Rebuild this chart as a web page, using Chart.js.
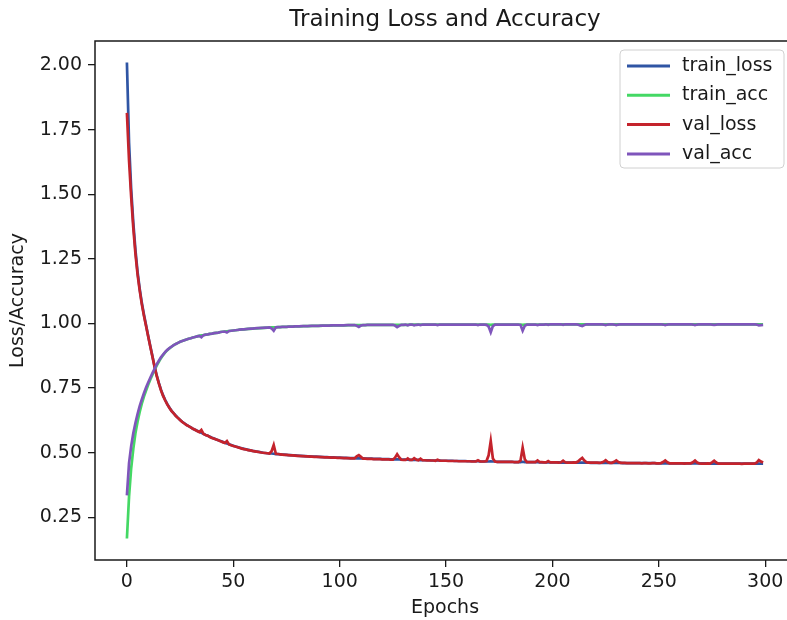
<!DOCTYPE html>
<html>
<head>
<meta charset="utf-8">
<title>Training Loss and Accuracy</title>
<script src="https://cdn.jsdelivr.net/npm/chart.js@4/dist/chart.umd.min.js"></script>
<style>
  html, body { margin: 0; padding: 0; background: #fff; overflow: hidden; }
  #wrap { width: 800px; height: 620px; }
</style>
</head>
<body>
<div id="wrap"><canvas id="chart" width="800" height="620"></canvas></div>
<script>
// values, one entry per epoch (0..299)
const epochs = Array.from({ length: 300 }, (_, i) => i);

const trainLoss = [
  2.010, 1.700, 1.520, 1.390, 1.285, 1.200, 1.135, 1.080, 1.035, 0.993,
  0.952, 0.912, 0.873, 0.834, 0.799, 0.770, 0.744, 0.722, 0.704, 0.688,
  0.674, 0.662, 0.652, 0.643, 0.635, 0.627, 0.620, 0.614, 0.608, 0.603,
  0.598, 0.593, 0.589, 0.585, 0.581, 0.577, 0.573, 0.569, 0.566, 0.562,
  0.558, 0.555, 0.551, 0.548, 0.545, 0.542, 0.539, 0.536, 0.533, 0.530,
  0.527, 0.524, 0.522, 0.519, 0.517, 0.515, 0.513, 0.511, 0.509, 0.507,
  0.506, 0.504, 0.503, 0.502, 0.500, 0.499, 0.498, 0.497, 0.497, 0.496,
  0.495, 0.495, 0.494, 0.493, 0.493, 0.492, 0.491, 0.491, 0.490, 0.490,
  0.489, 0.488, 0.488, 0.487, 0.487, 0.486, 0.486, 0.485, 0.485, 0.485,
  0.484, 0.484, 0.483, 0.483, 0.483, 0.482, 0.482, 0.482, 0.481, 0.481,
  0.481, 0.480, 0.480, 0.480, 0.479, 0.479, 0.479, 0.479, 0.478, 0.478,
  0.478, 0.478, 0.477, 0.477, 0.477, 0.477, 0.476, 0.476, 0.476, 0.476,
  0.475, 0.475, 0.475, 0.475, 0.474, 0.474, 0.474, 0.474, 0.474, 0.473,
  0.473, 0.473, 0.473, 0.472, 0.472, 0.472, 0.472, 0.472, 0.471, 0.471,
  0.471, 0.471, 0.471, 0.470, 0.470, 0.470, 0.470, 0.470, 0.469, 0.469,
  0.469, 0.469, 0.469, 0.469, 0.468, 0.468, 0.468, 0.468, 0.468, 0.468,
  0.467, 0.467, 0.467, 0.467, 0.467, 0.467, 0.466, 0.466, 0.466, 0.466,
  0.466, 0.467, 0.466, 0.466, 0.465, 0.465, 0.465, 0.465, 0.465, 0.465,
  0.465, 0.465, 0.464, 0.464, 0.464, 0.464, 0.465, 0.464, 0.464, 0.464,
  0.464, 0.464, 0.464, 0.464, 0.463, 0.463, 0.463, 0.463, 0.463, 0.463,
  0.463, 0.463, 0.463, 0.463, 0.462, 0.462, 0.462, 0.462, 0.462, 0.462,
  0.462, 0.462, 0.462, 0.462, 0.462, 0.462, 0.462, 0.462, 0.461, 0.461,
  0.461, 0.461, 0.461, 0.461, 0.461, 0.461, 0.461, 0.461, 0.461, 0.461,
  0.461, 0.461, 0.461, 0.460, 0.460, 0.460, 0.460, 0.460, 0.460, 0.460,
  0.460, 0.460, 0.460, 0.460, 0.460, 0.460, 0.460, 0.460, 0.460, 0.459,
  0.459, 0.459, 0.459, 0.459, 0.459, 0.459, 0.459, 0.459, 0.459, 0.459,
  0.459, 0.459, 0.459, 0.459, 0.459, 0.459, 0.459, 0.459, 0.459, 0.459,
  0.459, 0.459, 0.459, 0.458, 0.458, 0.458, 0.458, 0.458, 0.458, 0.458,
  0.458, 0.458, 0.458, 0.458, 0.458, 0.458, 0.458, 0.458, 0.458, 0.458,
  0.458, 0.458, 0.458, 0.458, 0.458, 0.458, 0.458, 0.458, 0.458, 0.458
];

const trainAcc = [
  0.168, 0.330, 0.440, 0.515, 0.575, 0.620, 0.658, 0.690, 0.717, 0.741,
  0.763, 0.783, 0.802, 0.820, 0.837, 0.852, 0.866, 0.878, 0.888, 0.897,
  0.904, 0.910, 0.916, 0.921, 0.925, 0.929, 0.932, 0.935, 0.938, 0.941,
  0.943, 0.946, 0.948, 0.950, 0.952, 0.954, 0.955, 0.957, 0.958, 0.960,
  0.961, 0.963, 0.964, 0.965, 0.967, 0.968, 0.969, 0.970, 0.971, 0.972,
  0.973, 0.974, 0.975, 0.976, 0.976, 0.977, 0.978, 0.979, 0.979, 0.980,
  0.981, 0.981, 0.982, 0.982, 0.983, 0.983, 0.984, 0.984, 0.985, 0.985,
  0.985, 0.986, 0.986, 0.987, 0.987, 0.987, 0.988, 0.988, 0.988, 0.989,
  0.989, 0.989, 0.989, 0.990, 0.990, 0.990, 0.990, 0.991, 0.991, 0.991,
  0.991, 0.991, 0.992, 0.992, 0.992, 0.992, 0.992, 0.993, 0.993, 0.993,
  0.993, 0.993, 0.993, 0.993, 0.994, 0.994, 0.994, 0.994, 0.994, 0.994,
  0.994, 0.994, 0.994, 0.995, 0.995, 0.995, 0.995, 0.995, 0.995, 0.995,
  0.995, 0.995, 0.995, 0.995, 0.995, 0.995, 0.995, 0.995, 0.995, 0.995,
  0.995, 0.995, 0.995, 0.996, 0.996, 0.996, 0.996, 0.996, 0.996, 0.996,
  0.996, 0.996, 0.996, 0.996, 0.996, 0.996, 0.996, 0.996, 0.996, 0.996,
  0.996, 0.996, 0.996, 0.996, 0.996, 0.996, 0.996, 0.996, 0.996, 0.996,
  0.996, 0.996, 0.996, 0.996, 0.996, 0.996, 0.996, 0.996, 0.996, 0.996,
  0.996, 0.995, 0.996, 0.996, 0.996, 0.996, 0.996, 0.996, 0.996, 0.996,
  0.996, 0.996, 0.996, 0.996, 0.996, 0.996, 0.995, 0.996, 0.996, 0.996,
  0.996, 0.996, 0.996, 0.996, 0.996, 0.996, 0.996, 0.997, 0.997, 0.997,
  0.997, 0.997, 0.997, 0.997, 0.997, 0.997, 0.997, 0.997, 0.997, 0.997,
  0.997, 0.997, 0.997, 0.997, 0.997, 0.997, 0.997, 0.997, 0.997, 0.997,
  0.997, 0.997, 0.997, 0.997, 0.997, 0.997, 0.997, 0.997, 0.997, 0.997,
  0.997, 0.997, 0.997, 0.997, 0.997, 0.997, 0.997, 0.997, 0.997, 0.997,
  0.997, 0.997, 0.997, 0.997, 0.997, 0.997, 0.997, 0.997, 0.997, 0.997,
  0.997, 0.997, 0.997, 0.997, 0.997, 0.997, 0.997, 0.997, 0.997, 0.997,
  0.997, 0.997, 0.997, 0.997, 0.997, 0.997, 0.997, 0.997, 0.997, 0.997,
  0.997, 0.997, 0.997, 0.997, 0.997, 0.997, 0.997, 0.997, 0.997, 0.997,
  0.997, 0.997, 0.997, 0.997, 0.997, 0.997, 0.997, 0.997, 0.997, 0.997,
  0.997, 0.997, 0.997, 0.997, 0.997, 0.997, 0.997, 0.997, 0.997, 0.997
];

const valLoss = [
  1.815, 1.630, 1.490, 1.370, 1.270, 1.190, 1.128, 1.075, 1.030, 0.990,
  0.950, 0.910, 0.871, 0.832, 0.797, 0.768, 0.742, 0.720, 0.702, 0.686,
  0.673, 0.661, 0.652, 0.642, 0.634, 0.627, 0.619, 0.613, 0.607, 0.603,
  0.598, 0.593, 0.589, 0.584, 0.580, 0.588, 0.573, 0.569, 0.566, 0.561,
  0.557, 0.554, 0.551, 0.548, 0.544, 0.541, 0.538, 0.545, 0.532, 0.529,
  0.526, 0.524, 0.521, 0.519, 0.516, 0.514, 0.513, 0.510, 0.509, 0.507,
  0.505, 0.504, 0.503, 0.501, 0.500, 0.499, 0.498, 0.497, 0.506, 0.530,
  0.496, 0.495, 0.494, 0.493, 0.492, 0.492, 0.491, 0.490, 0.490, 0.489,
  0.488, 0.488, 0.487, 0.487, 0.486, 0.486, 0.485, 0.485, 0.484, 0.484,
  0.484, 0.483, 0.483, 0.482, 0.482, 0.482, 0.481, 0.481, 0.481, 0.480,
  0.480, 0.480, 0.479, 0.479, 0.479, 0.478, 0.478, 0.478, 0.486, 0.491,
  0.484, 0.477, 0.477, 0.476, 0.476, 0.476, 0.475, 0.475, 0.475, 0.475,
  0.474, 0.474, 0.474, 0.474, 0.473, 0.473, 0.481, 0.494, 0.482, 0.473,
  0.472, 0.472, 0.478, 0.472, 0.472, 0.479, 0.473, 0.471, 0.477, 0.471,
  0.471, 0.470, 0.470, 0.470, 0.470, 0.469, 0.473, 0.469, 0.469, 0.469,
  0.469, 0.468, 0.468, 0.468, 0.468, 0.468, 0.467, 0.467, 0.467, 0.467,
  0.467, 0.467, 0.466, 0.466, 0.466, 0.471, 0.466, 0.466, 0.466, 0.468,
  0.490, 0.545, 0.478, 0.466, 0.465, 0.465, 0.465, 0.465, 0.465, 0.465,
  0.465, 0.465, 0.464, 0.464, 0.464, 0.470, 0.520, 0.475, 0.464, 0.464,
  0.464, 0.464, 0.464, 0.470, 0.464, 0.464, 0.463, 0.463, 0.468, 0.463,
  0.463, 0.463, 0.463, 0.462, 0.463, 0.469, 0.463, 0.462, 0.462, 0.462,
  0.463, 0.462, 0.466, 0.474, 0.480, 0.470, 0.463, 0.462, 0.462, 0.462,
  0.462, 0.462, 0.461, 0.462, 0.465, 0.471, 0.464, 0.461, 0.461, 0.465,
  0.470, 0.464, 0.461, 0.461, 0.461, 0.460, 0.460, 0.460, 0.460, 0.460,
  0.460, 0.460, 0.459, 0.460, 0.460, 0.459, 0.459, 0.460, 0.460, 0.459,
  0.459, 0.460, 0.464, 0.470, 0.463, 0.459, 0.459, 0.459, 0.459, 0.459,
  0.459, 0.459, 0.458, 0.459, 0.459, 0.459, 0.463, 0.470, 0.462, 0.459,
  0.458, 0.458, 0.458, 0.459, 0.458, 0.463, 0.469, 0.462, 0.458, 0.458,
  0.458, 0.458, 0.458, 0.458, 0.458, 0.458, 0.458, 0.458, 0.458, 0.457,
  0.458, 0.458, 0.458, 0.458, 0.458, 0.458, 0.462, 0.472, 0.466, 0.462
];

const valAcc = [
  0.335, 0.460, 0.525, 0.575, 0.615, 0.650, 0.680, 0.706, 0.730, 0.752,
  0.772, 0.790, 0.808, 0.825, 0.842, 0.856, 0.869, 0.880, 0.890, 0.898,
  0.905, 0.911, 0.916, 0.921, 0.925, 0.929, 0.932, 0.935, 0.938, 0.941,
  0.943, 0.946, 0.948, 0.950, 0.952, 0.947, 0.955, 0.957, 0.958, 0.960,
  0.961, 0.963, 0.964, 0.965, 0.967, 0.968, 0.969, 0.965, 0.971, 0.972,
  0.973, 0.974, 0.975, 0.976, 0.977, 0.977, 0.978, 0.979, 0.980, 0.980,
  0.981, 0.982, 0.982, 0.983, 0.983, 0.984, 0.984, 0.985, 0.981, 0.972,
  0.985, 0.986, 0.986, 0.987, 0.987, 0.987, 0.988, 0.988, 0.988, 0.989,
  0.989, 0.989, 0.990, 0.990, 0.990, 0.990, 0.991, 0.991, 0.991, 0.991,
  0.991, 0.992, 0.992, 0.992, 0.992, 0.992, 0.993, 0.993, 0.993, 0.993,
  0.993, 0.993, 0.993, 0.994, 0.994, 0.994, 0.994, 0.994, 0.991, 0.987,
  0.992, 0.994, 0.994, 0.995, 0.995, 0.995, 0.995, 0.995, 0.995, 0.995,
  0.995, 0.995, 0.995, 0.995, 0.995, 0.995, 0.992, 0.986, 0.991, 0.995,
  0.995, 0.996, 0.993, 0.996, 0.996, 0.993, 0.995, 0.996, 0.994, 0.996,
  0.996, 0.996, 0.996, 0.996, 0.996, 0.996, 0.994, 0.996, 0.996, 0.996,
  0.996, 0.996, 0.996, 0.996, 0.996, 0.996, 0.996, 0.996, 0.996, 0.996,
  0.996, 0.996, 0.996, 0.996, 0.996, 0.994, 0.996, 0.996, 0.996, 0.995,
  0.988, 0.966, 0.990, 0.996, 0.996, 0.996, 0.996, 0.996, 0.996, 0.996,
  0.996, 0.996, 0.996, 0.996, 0.996, 0.994, 0.972, 0.991, 0.996, 0.996,
  0.996, 0.996, 0.996, 0.994, 0.996, 0.996, 0.996, 0.997, 0.995, 0.997,
  0.997, 0.997, 0.997, 0.997, 0.997, 0.995, 0.997, 0.997, 0.997, 0.997,
  0.997, 0.997, 0.996, 0.992, 0.990, 0.994, 0.997, 0.997, 0.997, 0.997,
  0.997, 0.997, 0.997, 0.997, 0.996, 0.994, 0.996, 0.997, 0.997, 0.996,
  0.994, 0.996, 0.997, 0.997, 0.997, 0.997, 0.997, 0.997, 0.997, 0.997,
  0.997, 0.997, 0.997, 0.997, 0.997, 0.997, 0.997, 0.997, 0.997, 0.997,
  0.997, 0.997, 0.996, 0.994, 0.996, 0.997, 0.997, 0.997, 0.997, 0.997,
  0.997, 0.997, 0.997, 0.997, 0.997, 0.997, 0.996, 0.994, 0.996, 0.997,
  0.997, 0.997, 0.997, 0.997, 0.997, 0.996, 0.995, 0.996, 0.997, 0.997,
  0.997, 0.997, 0.997, 0.997, 0.997, 0.997, 0.997, 0.997, 0.997, 0.997,
  0.997, 0.997, 0.997, 0.997, 0.997, 0.997, 0.996, 0.993, 0.994, 0.995
];

const seriesNames = ['train_loss', 'train_acc', 'val_loss', 'val_acc'];
const seriesColors = ['#2f55a4', '#44d864', '#c4232c', '#7f55bb'];
const xTicks = [0, 50, 100, 150, 200, 250, 300];
const yTicks = [0.25, 0.50, 0.75, 1.00, 1.25, 1.50, 1.75, 2.00];

const FONT = 'DejaVu Sans';
const INK = '#1a1a1a';

const toPoints = (values) => values.map((v, i) => ({ x: epochs[i], y: v }));

// left, top and bottom spines (the right one falls outside the picture)
const framePlugin = {
    id: 'frame',
    afterDatasetsDraw(chart) {
        const { ctx, chartArea } = chart;
        ctx.save();
        ctx.strokeStyle = INK;
        ctx.lineWidth = 1.5;
        ctx.beginPath();
        ctx.moveTo(chartArea.right + 2, chartArea.top);
        ctx.lineTo(chartArea.left, chartArea.top);
        ctx.lineTo(chartArea.left, chartArea.bottom);
        ctx.lineTo(chartArea.right + 2, chartArea.bottom);
        ctx.stroke();
        ctx.restore();
    },
};

// boxed legend in the upper right corner of the plot
const boxLegendPlugin = {
    id: 'boxLegend',
    afterDraw(chart) {
        const { ctx } = chart;
        const x = 620, y = 50, w = 164, h = 118;
        ctx.save();
        ctx.beginPath();
        ctx.roundRect(x, y, w, h, 4);
        ctx.fillStyle = 'rgba(255,255,255,0.85)';
        ctx.fill();
        ctx.strokeStyle = '#d0d0d0';
        ctx.lineWidth = 1;
        ctx.stroke();
        ctx.font = '19px "' + FONT + '"';
        ctx.textBaseline = 'middle';
        chart.data.datasets.forEach((ds, i) => {
            const rowY = y + 16 + i * 29.3;
            ctx.strokeStyle = ds.borderColor;
            ctx.lineWidth = 3;
            ctx.beginPath();
            ctx.moveTo(627, rowY);
            ctx.lineTo(670, rowY);
            ctx.stroke();
            ctx.fillStyle = INK;
            ctx.fillText(ds.label, 682, rowY);
        });
        ctx.restore();
    },
};

const datasets = [trainLoss, trainAcc, valLoss, valAcc].map((values, i) => ({
    label: seriesNames[i],
    data: toPoints(values),
    borderColor: seriesColors[i],
    backgroundColor: seriesColors[i],
    borderWidth: 2.7,
    pointRadius: 0,
    fill: false,
    tension: 0,
    order: 3 - i,
}));

new Chart(document.getElementById('chart').getContext('2d'), {
    type: 'line',
    data: { datasets },
    plugins: [framePlugin, boxLegendPlugin],
    options: {
        responsive: false,
        animation: false,
        devicePixelRatio: 1,
        // canvas is a bit wider than the window: the plot's right edge falls off the picture
        layout: { padding: { left: 0, right: 5, top: 0, bottom: 0 } },
        plugins: {
            legend: { display: false },
            tooltip: { enabled: false },
            title: {
                display: true,
                text: 'Training Loss and Accuracy',
                fullSize: false,
                color: INK,
                font: { family: FONT, size: 23, weight: 'normal' },
                padding: { top: 6, bottom: 7.4 },
            },
        },
        scales: {
            x: {
                type: 'linear',
                min: -15,
                max: 314,
                afterBuildTicks: (scale) => { scale.ticks = xTicks.map((v) => ({ value: v })); },
                afterFit: (scale) => { scale.height = 60; },
                grid: { display: true, drawOnChartArea: false, drawTicks: true, tickLength: 7, color: INK, lineWidth: 1.3 },
                border: { display: false },
                ticks: {
                    color: INK,
                    padding: 4,
                    maxRotation: 0,
                    font: { family: FONT, size: 19 },
                    callback: (v) => String(v),
                },
                title: {
                    display: true,
                    text: 'Epochs',
                    color: INK,
                    font: { family: FONT, size: 19 },
                    padding: { top: 0, bottom: 1 },
                },
            },
            y: {
                type: 'linear',
                min: 0.085,
                max: 2.093,
                afterBuildTicks: (scale) => { scale.ticks = yTicks.map((v) => ({ value: v })); },
                afterFit: (scale) => { scale.width = 95; },
                grid: { display: true, drawOnChartArea: false, drawTicks: true, tickLength: 7, color: INK, lineWidth: 1.3 },
                border: { display: false },
                ticks: {
                    color: INK,
                    padding: 6,
                    font: { family: FONT, size: 19 },
                    callback: (v) => Number(v).toFixed(2),
                },
                title: {
                    display: true,
                    text: 'Loss/Accuracy',
                    color: INK,
                    font: { family: FONT, size: 19 },
                    padding: { top: 7, bottom: 0 },
                },
            },
        },
    },
});
</script>
</body>
</html>
